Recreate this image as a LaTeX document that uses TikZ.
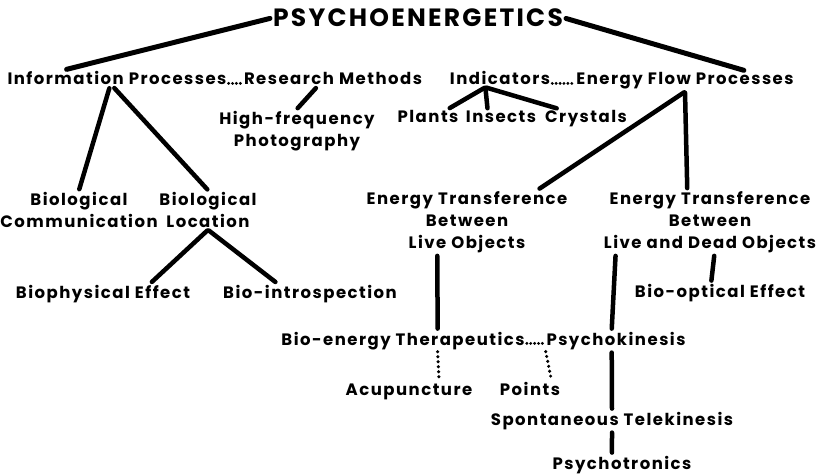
\documentclass[tikz,border=0pt]{standalone}
\usepackage{fontspec}
\setmainfont{Poppins}[LetterSpace=9]
\usetikzlibrary{calc}

\tikzset{
  term/.style={font=\bfseries\fontsize{16.5}{22}\selectfont, inner sep=2pt, anchor=base},
  stack/.style={term, align=center, anchor=center},
  headline/.style={font=\bfseries\fontsize{25}{30}\selectfont, inner sep=2pt, anchor=base},
  branch/.style={line width=4.5pt, line cap=round, shorten <=1pt, shorten >=1pt},
  dotcol/.style={line width=3.4pt, line cap=round, dash pattern=on 0pt off 5pt},
  dotrow/.style={line width=3.2pt, line cap=round, dash pattern=on 0pt off 3.9pt}
}

\begin{document}
\begin{tikzpicture}[x=1pt,y=-1pt]
  \useasboundingbox (0,0) rectangle (827,476);
  % Title
  \node[headline] (psy) at (418,27) {PSYCHOENERGETICS};
  % Main branches
  \node[term] (info) at (117,85) {Information Processes};
  \node[term] (resmeth) at (333,85) {Research Methods};
  \node[term] (indic) at (500,85) {Indicators};
  \node[term] (eflow) at (685,85) {Energy Flow Processes};
  % Methods and indicators
  \node[stack] (hfp) at (297,131) {High-frequency\\Photography};
  \node[term] (plants) at (428,123) {Plants};
  \node[term] (insects) at (501,123) {Insects};
  \node[term] (crystals) at (586,123) {Crystals};
  % Information processes
  \node[stack] (biocom) at (79,210) {Biological\\Communication};
  \node[stack] (bioloc) at (208,210) {Biological\\Location};
  \node[term] (biophys) at (103,298) {Biophysical Effect};
  \node[term] (biointro) at (310,298) {Bio-introspection};
  % Energy flow processes
  \node[stack] (etlive) at (467,222) {Energy Transference\\Between\\Live Objects};
  \node[stack] (etdead) at (710,222) {Energy Transference\\Between\\Live and Dead Objects};
  \node[term] (bioopt) at (720,297) {Bio-optical Effect};
  \node[term] (bioener) at (403,345) {Bio-energy Therapeutics};
  \node[term] (psychok) at (616,345) {Psychokinesis};
  \node[term] (acup) at (409,395) {Acupuncture};
  \node[term] (points) at (530,395) {Points};
  \node[term] (spont) at (612,425) {Spontaneous Telekinesis};
  \node[term] (psychot) at (622,469) {Psychotronics};

  % Title links
  \draw[branch, line width=5pt] (psy.west) -- ($(info.north west)!0.27!(info.north east)$);
  \draw[branch, line width=5pt] (psy.east) -- ($(eflow.north west)!0.77!(eflow.north east)$);
  % Dotted runs between terms
  \draw[dotrow] ([yshift=1.6pt]info.base east) -- ([yshift=1.6pt]resmeth.base west);
  \draw[dotrow] ([yshift=1.6pt]indic.base east) -- ([yshift=1.6pt]eflow.base west);
  \draw[dotrow] ([yshift=1.6pt]bioener.base east) -- ([yshift=1.6pt]psychok.base west);
  % Information processes
  \draw[branch] ($(info.south west)!0.467!(info.south east)$) -- (biocom.north);
  \draw[branch] ($(info.south west)!0.485!(info.south east)$) -- (bioloc.north);
  \draw[branch] (bioloc.south) -- ($(biophys.north west)!0.77!(biophys.north east)$);
  \draw[branch] (bioloc.south) -- ($(biointro.north west)!0.31!(biointro.north east)$);
  % Research methods
  \draw[branch] ($(resmeth.south west)!0.41!(resmeth.south east)$) -- (hfp.north);
  % Indicators
  \draw[branch] ($(indic.south west)!0.36!(indic.south east)$) -- ($(plants.north west)!0.82!(plants.north east)$);
  \draw[branch] ($(indic.south west)!0.36!(indic.south east)$) -- ($(insects.north west)!0.32!(insects.north east)$);
  \draw[branch] ($(indic.south west)!0.36!(indic.south east)$) -- ($(crystals.north west)!0.17!(crystals.north east)$);
  % Energy flow processes
  \draw[branch] (eflow.south) -- ($(etlive.north west)!0.85!(etlive.north east)$);
  \draw[branch] (eflow.south) -- ($(etdead.north west)!0.395!(etdead.north east)$);
  \draw[branch] ($(etlive.south west)!0.355!(etlive.south east)$) -- ($(bioener.north west)!0.64!(bioener.north east)$);
  \draw[branch] ($(etdead.south west)!0.064!(etdead.south east)$) -- ($(psychok.north west)!0.47!(psychok.north east)$);
  \draw[branch] ($(etdead.south west)!0.52!(etdead.south east)$) -- ($(bioopt.north west)!0.45!(bioopt.north east)$);
  \draw[branch] ($(psychok.south west)!0.47!(psychok.south east)$) -- ($(spont.north west)!0.5!(spont.north east)$);
  \draw[branch] ($(spont.south west)!0.5!(spont.south east)$) -- ($(psychot.north west)!0.43!(psychot.north east)$);
  % Acupuncture points
  \draw[dotcol] ($(bioener.south west)!0.64!(bioener.south east)$) -- ($(acup.north west)!0.73!(acup.north east)$);
  \draw[dotcol] ($(psychok.south west)!0.01!(psychok.south east)$) -- ($(points.north west)!0.83!(points.north east)$);
\end{tikzpicture}
\end{document}
